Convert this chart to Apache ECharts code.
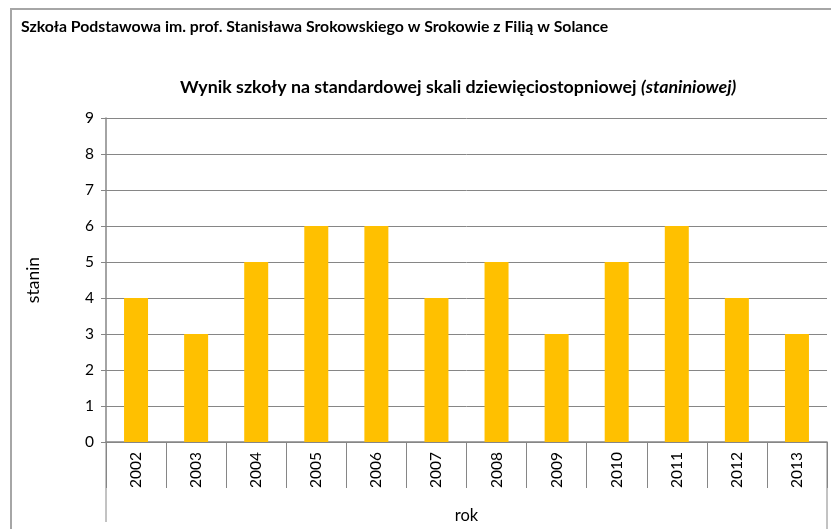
<!DOCTYPE html>
<html><head><meta charset="utf-8">
<script src="https://cdn.jsdelivr.net/npm/echarts@6/dist/echarts.min.js"></script>
<style>html,body{margin:0;padding:0;background:#fff}#c{width:831px;height:529px}</style>
</head><body><div id="c"></div>
<script>
const years = ['2002','2003','2004','2005','2006','2007','2008','2009','2010','2011','2012','2013'];
const stanin = [4,3,5,6,6,4,5,3,5,6,4,3];
const yTicks = {min:0, max:9, interval:1};
const schoolName = 'Szkoła Podstawowa im. prof. Stanisława Srokowskiego w Srokowie z Filią w Solance';
const chartTitleBold = 'Wynik szkoły na standardowej skali dziewięciostopniowej';
const chartTitleItalic = '(staniniowej)';
const FONT = 'Lato, "Open Sans", sans-serif';

const chart = echarts.init(document.getElementById('c'));
chart.setOption({
  animation:false,
  backgroundColor:'#fff',
  textStyle:{fontFamily:FONT},
  title:[
    {text:schoolName,left:16,top:14,textStyle:{fontFamily:FONT,fontSize:15.8,fontWeight:'bold',color:'#000'}},
    {text:'{b|'+chartTitleBold+'} {i|'+chartTitleItalic+'}',left:175,top:73,
     textStyle:{rich:{b:{fontFamily:FONT,fontSize:17.8,fontWeight:'bold',color:'#000'},i:{fontFamily:FONT,fontSize:17.8,fontStyle:'italic',color:'#000'}}}}
  ],
  graphic:[
    {type:'rect',shape:{x:11,y:9,width:830,height:530},style:{fill:'none',stroke:'#a6a6a6',lineWidth:2},silent:true},
    {type:'line',shape:{x1:106,y1:442,x2:106,y2:522},style:{stroke:'#868686',lineWidth:1}},
    {type:'line',shape:{x1:827,y1:442,x2:827,y2:529},style:{stroke:'#868686',lineWidth:1}}
  ],
  grid:{left:106,top:118,right:4,bottom:87,containLabel:false},
  xAxis:{type:'category',data:years,name:'rok',nameLocation:'middle',nameGap:65,
    nameTextStyle:{fontFamily:FONT,fontSize:16.5,color:'#000'},
    axisLine:{lineStyle:{color:'#868686',width:1.5}},
    axisTick:{show:true,length:46,interval:0,lineStyle:{color:'#868686'}},
    axisLabel:{rotate:90,fontFamily:FONT,fontSize:15.5,color:'#000',margin:10,interval:0}},
  yAxis:{type:'value',min:yTicks.min,max:yTicks.max,interval:yTicks.interval,
    name:'stanin',nameLocation:'middle',nameGap:64,nameRotate:90,
    nameTextStyle:{fontFamily:FONT,fontSize:17.5,color:'#000'},
    axisLine:{show:true,lineStyle:{color:'#868686',width:1.5}},
    axisTick:{show:true,length:5,lineStyle:{color:'#868686'}},
    axisLabel:{fontFamily:FONT,fontSize:15.5,color:'#000',margin:12},
    splitLine:{lineStyle:{color:'#868686',width:1}}},
  series:[{type:'bar',data:stanin,barWidth:24,itemStyle:{color:'#FFC000'}}]
});
</script></body></html>
